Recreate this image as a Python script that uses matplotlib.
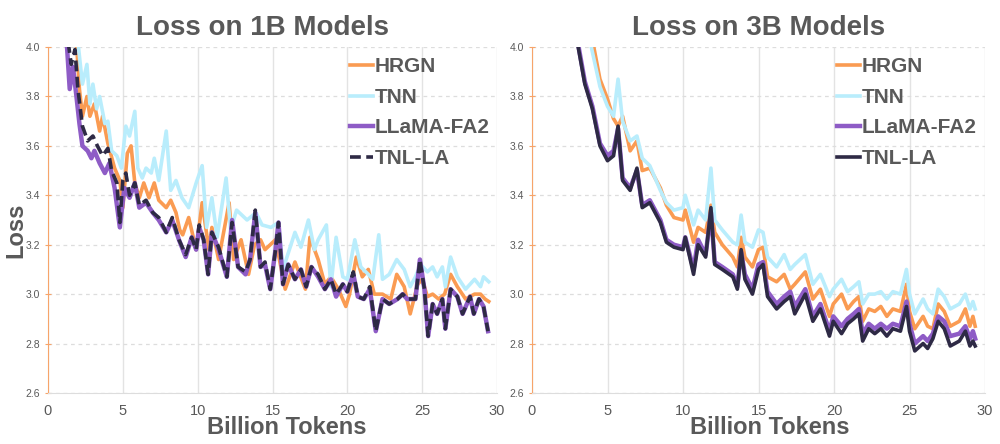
import matplotlib
matplotlib.use("Agg")
import matplotlib.pyplot as plt

# 1B models (left panel)
hrgn_1b_x = [1.9, 2.1, 2.3, 2.6, 2.8, 3.1, 3.45, 3.65, 4.0, 4.45, 4.8, 5.0, 5.3, 5.55, 5.8, 6.1, 6.4, 6.75, 7.1, 7.4,
             7.9, 8.2, 8.55, 8.8, 9.0, 9.4, 9.9, 10.3, 10.75, 10.95, 11.4, 12.1, 12.4, 12.9, 13.4, 13.8, 14.2, 14.5,
             15.2, 15.85, 16.5, 17.2, 17.5, 18.05, 18.5, 18.9, 19.4, 19.9, 20.15, 20.6, 21.0, 21.4, 21.8, 22.35,
             22.9, 23.3, 23.8, 24.2, 24.7, 25.0, 25.35, 25.7, 26.1, 26.5, 26.9, 27.35, 27.9, 28.5, 28.9, 29.2, 29.45]
hrgn_1b_y = [4.02, 3.83, 3.72, 3.80, 3.72, 3.77, 3.66, 3.72, 3.61, 3.51, 3.46, 3.35, 3.57, 3.60, 3.45, 3.39, 3.45, 3.39,
             3.45, 3.38, 3.35, 3.38, 3.33, 3.26, 3.24, 3.31, 3.18, 3.37, 3.18, 3.27, 3.14, 3.37, 3.14, 3.22, 3.08, 3.20,
             3.22, 3.18, 3.22, 3.02, 3.13, 3.02, 3.23, 3.14, 3.04, 3.07, 3.02, 2.95, 3.00, 3.15, 3.07, 3.10, 3.00, 3.00,
             2.98, 3.08, 3.03, 2.92, 3.04, 3.06, 2.99, 3.00, 2.98, 3.00, 3.08, 3.03, 2.98, 3.00, 3.00, 2.98, 2.97]

tnn_1b_x = [2.0, 2.3, 2.6, 2.8, 3.0, 3.25, 3.45, 3.8, 4.0, 4.25, 4.6, 4.9, 5.2, 5.45, 5.8, 6.0, 6.3, 6.55, 6.9, 7.1,
            7.4, 7.9, 8.2, 8.55, 8.95, 9.4, 9.9, 10.3, 10.6, 10.95, 11.3, 11.9, 12.2, 12.6, 13.3, 13.9, 14.3, 14.9,
            15.4, 15.7, 16.5, 16.9, 17.4, 17.8, 18.05, 18.6, 18.9, 19.25, 19.7, 20.0, 20.5, 20.9, 21.4, 21.7, 22.1,
            22.35, 22.8, 23.3, 23.8, 24.2, 24.55, 24.9, 25.35, 25.7, 26.0, 26.35, 26.55, 26.9, 27.35, 27.9, 28.5,
            28.9, 29.1, 29.45]
tnn_1b_y = [4.02, 3.85, 3.93, 3.77, 3.85, 3.75, 3.80, 3.69, 3.70, 3.58, 3.56, 3.51, 3.68, 3.64, 3.74, 3.51, 3.47, 3.51,
            3.49, 3.55, 3.46, 3.66, 3.42, 3.46, 3.39, 3.35, 3.45, 3.52, 3.27, 3.39, 3.23, 3.47, 3.26, 3.34, 3.30, 3.33,
            3.28, 3.27, 3.29, 3.10, 3.25, 3.19, 3.30, 3.18, 3.22, 3.28, 3.03, 3.23, 3.07, 3.06, 3.22, 3.11, 3.08, 3.06,
            3.24, 3.06, 3.08, 3.14, 3.10, 3.03, 3.07, 3.12, 3.09, 3.11, 3.07, 3.11, 3.03, 3.15, 3.07, 3.02, 3.06, 3.03,
            3.07, 3.05]

llama_1b_x = [1.25, 1.45, 1.67, 1.9, 2.1, 2.3, 2.65, 2.9, 3.1, 3.45, 3.8, 4.1, 4.45, 4.8, 5.1, 5.45, 5.8, 6.1, 6.55,
              7.0, 7.4, 7.9, 8.3, 8.75, 9.2, 9.6, 9.9, 10.1, 10.4, 10.7, 10.95, 11.4, 11.95, 12.3, 12.7, 13.2, 13.5,
              13.85, 14.2, 14.5, 14.85, 15.2, 15.4, 15.7, 16.05, 16.5, 16.9, 17.25, 17.6, 18.05, 18.5, 18.9, 19.25,
              19.7, 20.0, 20.4, 20.7, 21.1, 21.5, 21.9, 22.35, 22.8, 23.35, 23.7, 24.0, 24.55, 24.85, 25.15, 25.4,
              25.7, 26.0, 26.35, 26.55, 26.9, 27.35, 27.7, 28.2, 28.45, 28.8, 29.1, 29.4]
llama_1b_y = [4.02, 3.83, 3.92, 3.80, 3.69, 3.60, 3.58, 3.55, 3.58, 3.53, 3.49, 3.53, 3.43, 3.27, 3.43, 3.39, 3.45,
              3.35, 3.37, 3.33, 3.30, 3.25, 3.30, 3.22, 3.15, 3.23, 3.18, 3.27, 3.22, 3.08, 3.25, 3.18, 3.07, 3.30,
              3.11, 3.08, 3.14, 3.33, 3.11, 3.12, 3.02, 3.18, 3.29, 3.04, 3.12, 3.06, 3.10, 3.03, 3.11, 3.07, 3.02,
              3.06, 2.99, 3.04, 3.01, 3.08, 2.99, 2.98, 3.02, 2.85, 2.98, 2.96, 2.98, 3.00, 2.98, 2.98, 3.14, 3.02,
              2.83, 2.96, 2.92, 2.98, 2.86, 3.02, 2.99, 2.92, 2.99, 2.92, 2.98, 2.95, 2.85]

tnl_1b_x = [1.35, 1.55, 1.8, 2.0, 2.3, 2.65, 3.0, 3.3, 3.65, 4.0, 4.25, 4.6, 4.8, 5.0, 5.2, 5.45, 5.8, 6.1, 6.55,
            7.0, 7.4, 7.9, 8.3, 8.75, 9.2, 9.6, 9.9, 10.1, 10.4, 10.7, 10.95, 11.4, 11.95, 12.3, 12.7, 13.2, 13.5,
            13.85, 14.2, 14.5, 14.85, 15.2, 15.4, 15.7, 16.05, 16.5, 16.9, 17.25, 17.6, 18.05, 18.5, 18.9, 19.25,
            19.7, 20.0, 20.4, 20.7, 21.1, 21.5, 21.9, 22.35, 22.8, 23.35, 23.7, 24.0, 24.55, 24.85, 25.15, 25.4,
            25.7, 26.0, 26.35, 26.55, 26.9, 27.35, 27.7, 28.2, 28.45, 28.8, 29.1, 29.4]
tnl_1b_y = [4.02, 3.93, 3.99, 3.83, 3.68, 3.62, 3.64, 3.60, 3.56, 3.59, 3.50, 3.45, 3.29, 3.46, 3.49, 3.40, 3.45,
            3.36, 3.38, 3.33, 3.31, 3.25, 3.31, 3.22, 3.16, 3.23, 3.18, 3.28, 3.22, 3.08, 3.25, 3.19, 3.07, 3.29,
            3.11, 3.09, 3.14, 3.34, 3.11, 3.13, 3.02, 3.18, 3.29, 3.04, 3.12, 3.06, 3.10, 3.03, 3.11, 3.08, 3.02,
            3.06, 3.00, 3.04, 3.01, 3.09, 2.99, 2.98, 3.03, 2.85, 2.98, 2.96, 2.98, 3.00, 2.98, 2.98, 3.14, 3.02,
            2.83, 2.96, 2.92, 2.98, 2.86, 3.02, 2.99, 2.92, 2.99, 2.92, 2.98, 2.95, 2.85]

# 3B models (right panel)
tok_3b = [3.0, 3.5, 4.0, 4.5, 5.0, 5.4, 5.7, 6.0, 6.5, 6.95, 7.3, 7.8, 8.5, 8.9, 9.4, 10.0, 10.15, 10.7, 11.0, 11.5,
          11.85, 12.1, 12.6, 13.3, 13.6, 13.85, 14.1, 14.6, 15.0, 15.3, 15.6, 16.2, 16.7, 17.1, 17.4, 18.1, 18.6,
          19.1, 19.7, 19.95, 20.5, 20.9, 21.3, 21.65, 21.9, 22.3, 22.7, 23.1, 23.5, 23.9, 24.4, 24.8, 25.0, 25.35,
          25.9, 26.2, 26.55, 26.9, 27.3, 27.7, 28.3, 28.7, 29.0, 29.2, 29.35]
hrgn_3b = [4.30, 4.15, 4.03, 3.87, 3.79, 3.71, 3.68, 3.72, 3.58, 3.62, 3.50, 3.51, 3.43, 3.36, 3.31, 3.30, 3.34, 3.21,
           3.27, 3.25, 3.36, 3.25, 3.20, 3.15, 3.11, 3.23, 3.15, 3.11, 3.18, 3.19, 3.07, 3.05, 3.08, 3.02, 3.04, 3.09,
           2.98, 3.02, 2.91, 2.96, 3.00, 2.94, 2.97, 2.99, 2.89, 2.94, 2.93, 2.95, 2.91, 2.94, 2.93, 3.04, 2.93, 2.86,
           2.91, 2.87, 2.86, 2.96, 2.93, 2.87, 2.89, 2.94, 2.87, 2.91, 2.87]
tnn_3b = [4.30, 4.12, 3.98, 3.84, 3.76, 3.72, 3.87, 3.70, 3.62, 3.64, 3.55, 3.52, 3.42, 3.37, 3.34, 3.35, 3.40, 3.28,
          3.34, 3.30, 3.51, 3.30, 3.26, 3.21, 3.20, 3.32, 3.21, 3.19, 3.26, 3.25, 3.15, 3.11, 3.16, 3.10, 3.12, 3.16,
          3.04, 3.08, 2.99, 3.02, 3.06, 3.01, 3.03, 3.05, 2.96, 3.00, 3.00, 3.01, 2.98, 3.01, 3.00, 3.10, 3.00, 2.92,
          2.98, 2.94, 2.92, 3.02, 2.99, 2.94, 2.96, 3.00, 2.94, 2.97, 2.94]
llama_3b = [4.03, 3.86, 3.76, 3.61, 3.56, 3.58, 3.67, 3.47, 3.43, 3.50, 3.36, 3.38, 3.30, 3.22, 3.20, 3.19, 3.23, 3.10,
            3.22, 3.16, 3.33, 3.13, 3.11, 3.08, 3.03, 3.17, 3.08, 3.02, 3.12, 3.13, 3.01, 2.96, 2.99, 3.01, 2.95, 3.02,
            2.91, 2.96, 2.85, 2.91, 2.87, 2.90, 2.92, 2.94, 2.84, 2.88, 2.86, 2.88, 2.86, 2.88, 2.87, 2.97, 2.88, 2.80,
            2.83, 2.81, 2.84, 2.91, 2.89, 2.83, 2.84, 2.87, 2.82, 2.85, 2.82]
tnl_3b = [4.02, 3.85, 3.75, 3.60, 3.54, 3.56, 3.68, 3.46, 3.42, 3.51, 3.35, 3.37, 3.29, 3.21, 3.19, 3.18, 3.23, 3.08,
          3.20, 3.15, 3.35, 3.12, 3.10, 3.07, 3.02, 3.18, 3.06, 3.00, 3.10, 3.12, 2.99, 2.94, 2.97, 2.99, 2.92, 3.00,
          2.89, 2.94, 2.83, 2.89, 2.84, 2.88, 2.90, 2.92, 2.81, 2.86, 2.84, 2.86, 2.83, 2.86, 2.85, 2.95, 2.85, 2.77,
          2.80, 2.78, 2.82, 2.89, 2.86, 2.79, 2.81, 2.85, 2.79, 2.81, 2.79]

names = ["HRGN", "TNN", "LLaMA-FA2", "TNL-LA"]
colors = ["#FA9B52", "#B9EDFC", "#8E5CC6", "#2E2A45"]
gray = "#595959"

plt.rcParams['font.family'] = ['Liberation Sans', 'DejaVu Sans']

fig = plt.figure(figsize=(10, 4.44), dpi=100)
ax1 = fig.add_axes([0.048, 0.115, 0.449, 0.779])
ax2 = fig.add_axes([0.532, 0.115, 0.453, 0.779])

# left panel
ax1.plot(hrgn_1b_x, hrgn_1b_y, color=colors[0], lw=2.6, label=names[0])
ax1.plot(tnn_1b_x, tnn_1b_y, color=colors[1], lw=2.6, label=names[1])
ax1.plot(llama_1b_x, llama_1b_y, color=colors[2], lw=3.2, label=names[2])
ax1.plot(tnl_1b_x, tnl_1b_y, color=colors[3], lw=2.6, ls=(0, (3, 1.5)), label=names[3])

# right panel
ax2.plot(tok_3b, hrgn_3b, color=colors[0], lw=2.6, label=names[0])
ax2.plot(tok_3b, tnn_3b, color=colors[1], lw=2.6, label=names[1])
ax2.plot(tok_3b, llama_3b, color=colors[2], lw=3.2, label=names[2])
ax2.plot(tok_3b, tnl_3b, color=colors[3], lw=2.6, label=names[3])

panels = [(ax1, "Loss on 1B Models", 0.477, 0.532, 0.984),
          (ax2, "Loss on 3B Models", 0.50, 0.525, 0.982)]
for ax, title, tx, lx, legx in panels:
    ax.set_xlim(0, 30)
    ax.set_ylim(2.6, 4.0)
    ax.set_xticks([0, 5, 10, 15, 20, 25, 30])
    ax.set_yticks([2.6, 2.8, 3.0, 3.2, 3.4, 3.6, 3.8, 4.0])
    ax.set_yticklabels(["%.1f" % v for v in ax.get_yticks()])
    ax.grid(axis="x", color="#E3E3E3", lw=1.0, ls="-")
    ax.grid(axis="y", color="#DDDDDD", lw=0.9, ls=(0, (3, 3)))
    ax.set_axisbelow(True)
    for s in ["top", "right"]:
        ax.spines[s].set_visible(False)
    ax.spines["left"].set_color("#F7A46A")
    ax.spines["bottom"].set_color("#DDDDDD")
    ax.tick_params(axis="y", colors="#F7A46A", labelcolor=gray, labelsize=7.5, length=5, direction="inout", pad=3)
    ax.tick_params(axis="x", length=0, labelcolor=gray, labelsize=10.5, pad=8)
    ax.set_title(title, fontsize=20, fontweight="bold", color=gray, pad=9, x=tx)
    ax.set_xlabel("Billion Tokens", fontsize=17, fontweight="bold", color=gray)
    ax.xaxis.set_label_coords(lx, -0.068)
    leg = ax.legend(loc="upper right", frameon=False, prop={"size": 15, "weight": "bold"},
                    handlelength=1.1, handletextpad=0.1, labelspacing=0.55,
                    borderpad=0, borderaxespad=0, bbox_to_anchor=(legx, 0.97))
    for t in leg.get_texts():
        t.set_color(gray)

ax1.set_ylabel("Loss", fontsize=17, fontweight="bold", color=gray)
ax1.yaxis.set_label_coords(-0.047, 0.47)

fig.savefig("out.png", dpi=100)
